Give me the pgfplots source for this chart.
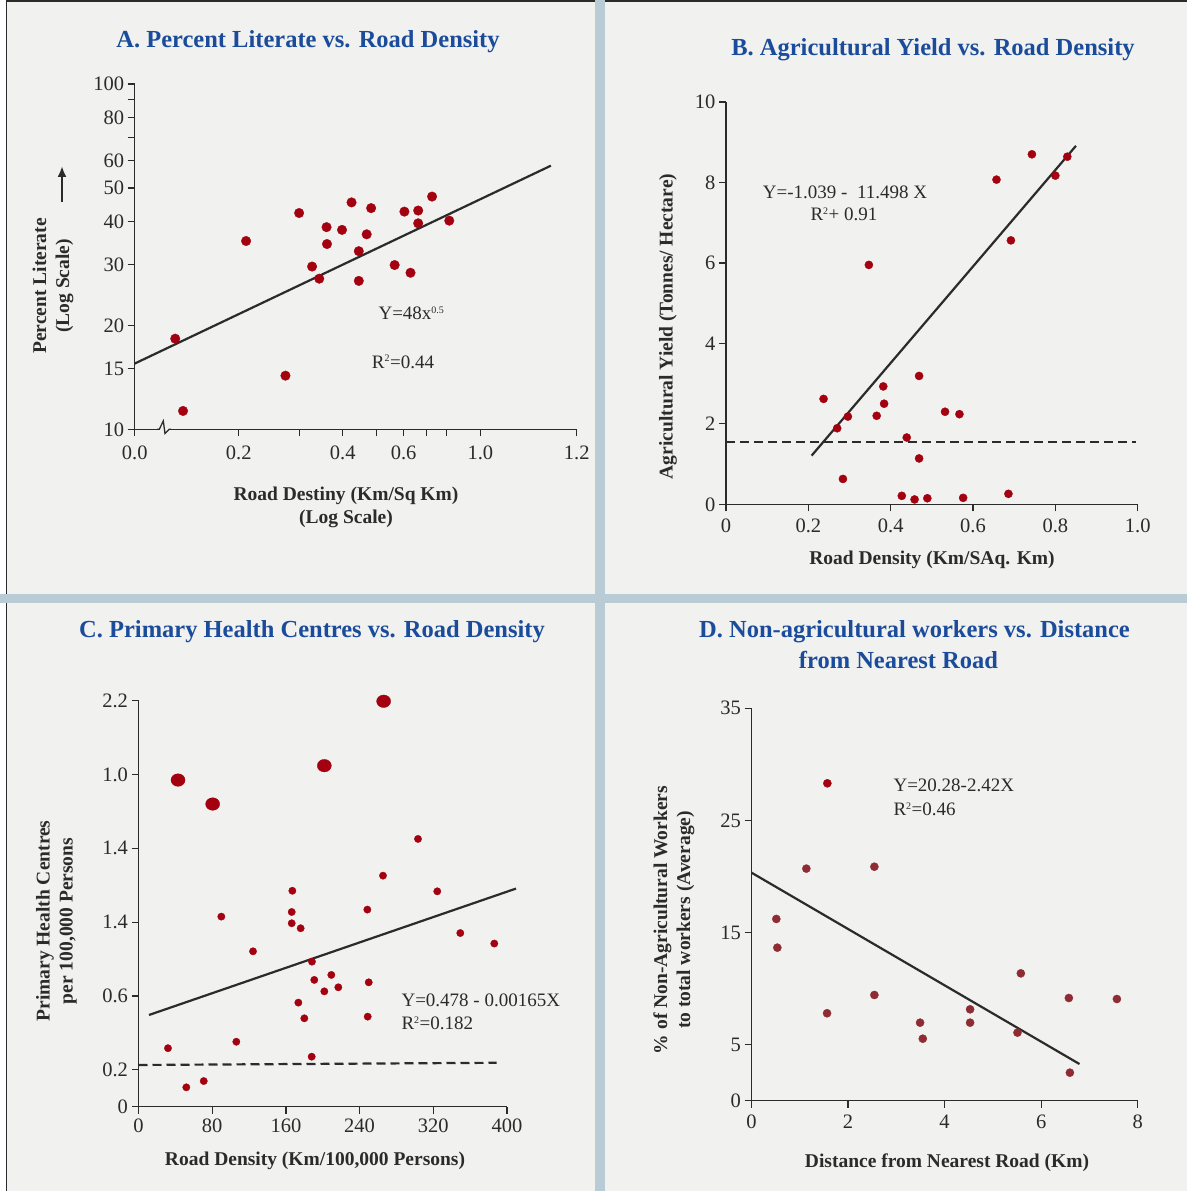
\documentclass[border=0pt]{standalone}
\usepackage{fontspec}
\setmainfont{Liberation Serif}
\usepackage{pgfplots}
\pgfplotsset{compat=1.18}
\usetikzlibrary{arrows.meta}
\definecolor{bg}{HTML}{F1F1EF}
\definecolor{sep}{HTML}{B9CBD4}
\definecolor{dotred}{HTML}{A30010}
\definecolor{dotD}{HTML}{8E2B33}
\definecolor{ttl}{HTML}{1B4C9C}
\definecolor{ax}{HTML}{2B2B2B}
\newcommand{\ttlfont}{\fontsize{24.5}{28}\selectfont\bfseries}
\newcommand{\labfont}{\fontsize{19.5}{23}\selectfont\bfseries}
\newcommand{\annfont}{\fontsize{19}{20}\selectfont}
\pgfplotsset{
  base/.style={scale only axis, axis lines=left,
    axis line style={-, ax, line width=1.3pt},
    tick style={ax, line width=1.2pt}, tick align=outside,
    major tick length=7pt, minor tick length=7pt,
    ticklabel style={font=\fontsize{20.5}{21}\selectfont, text=ax},
    /pgf/number format/assume math mode=true, clip=false},
  dots/.style={dotred, only marks, mark=*, mark size=#1, mark options={draw=dotred, fill=dotred, line width=0.3pt, solid}},
  fit/.style={ax, line width=2.2pt, no marks},
  dash/.style={ax, line width=2.2pt, no marks, dash pattern=on 9pt off 5pt}
}
\begin{document}
\begin{tikzpicture}
\begin{scope}[x=1pt,y=1pt]
\useasboundingbox (0,0) rectangle (1187,1191);
\fill[bg] (0,0) rectangle (1187,1191);
\fill[white] (0,0) rectangle (6,1191);
\draw[ax, line width=1.5pt] (6.5,0) -- (6.5,1190.2) -- (1187,1190.2);
\fill[sep] (595,0) rectangle (605,1191);
\fill[sep] (0,588) rectangle (1187,597);
\end{scope}

% ---------- Panel A ----------
\begin{axis}[base, at={(134.7pt,761.7pt)}, anchor=south west, width=442pt, height=345.3pt,
  xmode=log, ymode=log, xmin=0.1, xmax=1.9, ymin=10, ymax=100,
  xtick={0.1,0.2,0.4,0.6,1.0,1.9}, xticklabels={0.0,0.2,0.4,0.6,1.0,1.2},
  minor xtick={0.3,0.5,0.7,0.8},
  xticklabel style={yshift=-6pt},
  ytick={10,15,20,30,40,50,60,80,100}, yticklabels={10,15,20,30,40,50,60,80,100},
  minor ytick={70,90}]
\addplot[dots=4.8pt] coordinates {(0.131,18.3)(0.138,11.3)(0.21,35.1)(0.273,14.3)(0.299,42.3)(0.359,38.5)(0.36,34.4)(0.398,37.8)(0.424,45.4)(0.483,43.7)(0.469,36.7)(0.445,32.8)(0.326,29.6)(0.342,27.3)(0.445,26.9)(0.565,29.9)(0.628,28.4)(0.603,42.7)(0.661,43.0)(0.661,39.5)(0.725,47.2)(0.813,40.2)};
\addplot[fit] coordinates {(0.1,15.5)(1.6,58.0)};
\end{axis}
\begin{scope}[x=1pt,y=1pt]
\fill[bg] (158.5,758) rectangle (170,765.5);
\draw[ax, line width=1.3pt] (157,761.7) -- (159.3,761.7) -- (163.3,770) -- (165,757.5) -- (169.3,761.7) -- (171,761.7);
\node[ttl, font=\ttlfont] at (308,1149) {A. Percent Literate vs. Road Density};
\node[ax, font=\labfont, rotate=90, align=center] at (53,905) {Percent Literate\\(Log Scale)};
\draw[ax, line width=2.5pt, -{Latex[length=11pt,width=9pt]}] (62,989.3) -- (62,1025);
\node[ax, font=\labfont, align=center] at (346,684) {Road Destiny (Km/Sq Km)\\(Log Scale)};
\node[ax, font=\annfont] at (411.5,878) {Y=48x\textsuperscript{\fontsize{10}{10}\selectfont 0.5}};
\node[ax, font=\annfont] at (403,829.3) {R\textsuperscript{\fontsize{10}{10}\selectfont 2}=0.44};
\end{scope}

% ---------- Panel B ----------
\begin{axis}[base, at={(726pt,686.7pt)}, anchor=south west, width=411.7pt, height=402.3pt,
  xmin=0, xmax=1.0, ymin=0, ymax=10,
  xtick={0,0.2,0.4,0.6,0.8,1.0}, xticklabels={0,0.2,0.4,0.6,0.8,1.0},
  xticklabel style={yshift=-4pt},
  ytick={0,2,4,6,8,10}, yticklabels={0,2,4,6,8,10}]
\addplot[dash] coordinates {(0,1.54)(0.996,1.54)};
\addplot[dots=4.1pt] coordinates {(0.237,2.62)(0.27,1.89)(0.296,2.18)(0.284,0.63)(0.347,5.95)(0.366,2.20)(0.382,2.93)(0.384,2.50)(0.427,0.21)(0.439,1.66)(0.458,0.12)(0.469,3.19)(0.469,1.14)(0.489,0.15)(0.532,2.30)(0.567,2.24)(0.576,0.16)(0.686,0.26)(0.657,8.07)(0.692,6.56)(0.743,8.70)(0.80,8.17)(0.829,8.64)};
\addplot[fit] coordinates {(0.208,1.21)(0.85,8.91)};
\end{axis}
\begin{scope}[x=1pt,y=1pt]
\node[ttl, font=\ttlfont] at (933,1141) {B. Agricultural Yield vs. Road Density};
\node[ax, font=\labfont, rotate=90] at (668,864.5) {Agricultural Yield (Tonnes/ Hectare)};
\node[ax, font=\labfont] at (932,631) {Road Density (Km/SAq. Km)};
\node[ax, font=\annfont] at (845,999) {Y=-1.039 -\ \ 11.498 X};
\node[ax, font=\annfont] at (844,977) {R\textsuperscript{\fontsize{10}{10}\selectfont 2}+ 0.91};
\end{scope}

% ---------- Panel C ----------
\begin{axis}[base, at={(138.5pt,84.3pt)}, anchor=south west, width=368.5pt, height=406pt,
  xmin=0, xmax=400, ymin=0, ymax=2.2,
  xtick={0,80,160,240,320,400}, xticklabels={0,80,160,240,320,400},
  xticklabel style={yshift=-2pt},
  ytick={0,0.2,0.6,1.0,1.4,1.8,2.2}, yticklabels={0,0.2,0.6,1.4,1.4,1.0,2.2}]
\addplot[dash] coordinates {(0,0.226)(388.8,0.238)};
\addplot[dots=3.7pt] coordinates {(167,1.17)(166.3,1.055)(166.3,0.994)(176,0.967)(89.9,1.03)(124.3,0.842)(173.5,0.564)(32,0.317)(106.2,0.352)(51.9,0.105)(70.8,0.139)(303.4,1.451)(265.4,1.252)(324.3,1.167)(248.4,1.068)(349.3,0.941)(386.2,0.884)(188.3,0.786)(190.8,0.687)(209.3,0.714)(216.9,0.647)(201.7,0.625)(249.9,0.674)(180,0.479)(248.8,0.488)(188,0.271)};
\addplot[dotred, only marks, mark=*, mark size=6.3pt, mark options={draw=dotred, fill=dotred, line width=0.3pt, xscale=1.12}] coordinates {(42.9,1.77)(80.5,1.64)(266.1,2.197)(201.7,1.848)};
\addplot[fit] coordinates {(11.4,0.497)(409.8,1.182)};
\end{axis}
\begin{scope}[x=1pt,y=1pt]
\node[ttl, font=\ttlfont] at (312,559) {C. Primary Health Centres vs. Road Density};
\node[ax, font=\labfont, rotate=90, align=center] at (56.5,270) {Primary Health Centres\\per 100,000 Persons};
\node[ax, font=\labfont] at (315,30) {Road Density (Km/100,000 Persons)};
\node[ax, font=\annfont, anchor=west] at (398,191) {Y=0.478 - 0.00165X};
\node[ax, font=\annfont, anchor=west] at (398,168) {R\textsuperscript{\fontsize{10}{10}\selectfont 2}=0.182};
\end{scope}

% ---------- Panel D ----------
\begin{axis}[base, at={(751.5pt,90.3pt)}, anchor=south west, width=386.2pt, height=392.4pt,
  xmin=0, xmax=8, ymin=0, ymax=35,
  xtick={0,2,4,6,8}, xticklabels={0,2,4,6,8},
  xticklabel style={yshift=-4pt},
  ytick={0,5,15,25,35}, yticklabels={0,5,15,25,35}]
\addplot[dotD, only marks, mark=*, mark size=4.1pt, mark options={draw=dotD, fill=dotD, line width=0.3pt}] coordinates {(1.136,20.70)(2.545,20.87)(0.514,16.21)(0.535,13.65)(2.545,9.43)(1.565,7.80)(5.579,11.36)(6.574,9.16)(7.569,9.07)(4.528,8.15)(3.492,6.96)(4.528,6.96)(3.548,5.53)(5.509,6.07)(6.595,2.50)};
\addplot[dots=4.1pt] coordinates {(1.571,28.31)};
\addplot[fit] coordinates {(0,20.34)(6.794,3.27)};
\end{axis}
\begin{scope}[x=1pt,y=1pt]
\node[ttl, font=\ttlfont] at (914.5,559) {D. Non-agricultural workers vs. Distance};
\node[ttl, font=\ttlfont] at (898.5,531) {from Nearest Road};
\node[ax, font=\labfont, rotate=90, align=center] at (674,271) {\% of Non-Agricultural Workers\\to total workers (Average)};
\node[ax, font=\labfont] at (947,28) {Distance from Nearest Road (Km)};
\node[ax, font=\annfont, anchor=west] at (890,405.3) {Y=20.28-2.42X};
\node[ax, font=\annfont, anchor=west] at (890,382) {R\textsuperscript{\fontsize{10}{10}\selectfont 2}=0.46};
\end{scope}
\end{tikzpicture}
\end{document}
